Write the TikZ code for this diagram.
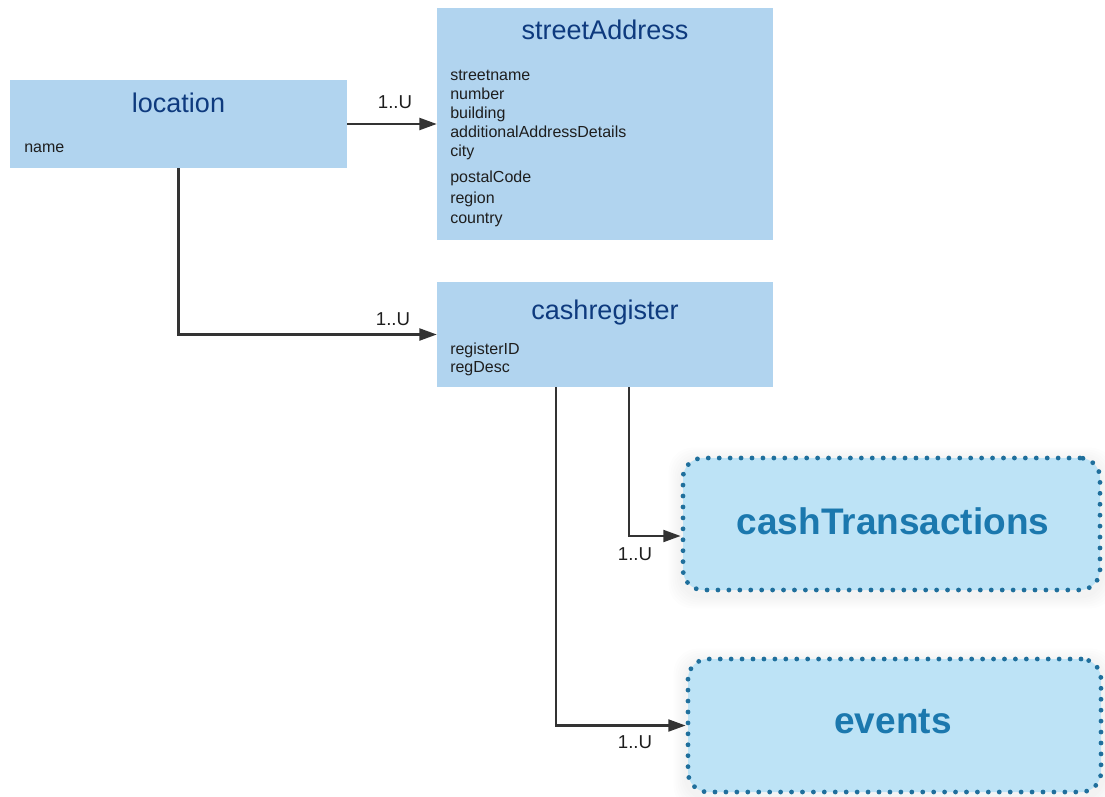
\documentclass[tikz,border=0pt]{standalone}
\usepackage{fontspec}
\setmainfont{Liberation Sans}
\usetikzlibrary{arrows.meta,calc,backgrounds}
\definecolor{boxfill}{HTML}{B1D4EF}
\definecolor{titlecol}{HTML}{0E3A7E}
\definecolor{fieldcol}{HTML}{1E1E1E}
\definecolor{dotfill}{HTML}{BDE3F6}
\definecolor{dotline}{HTML}{1F6F9C}
\definecolor{boldcol}{HTML}{1B78AE}
\definecolor{linecol}{HTML}{333333}
\tikzset{
  entity/.style={fill=boxfill, draw=none, inner sep=0pt},
  etitle/.style={text=titlecol, font=\fontsize{20.25}{24}\selectfont, inner sep=0pt},
  efield/.style={text=fieldcol, font=\fontsize{12}{14}\selectfont, inner sep=0pt, anchor=mid west},
  ext/.style={fill=dotfill, draw=dotline, line width=3.6pt, line cap=round,
    dash pattern=on 0pt off 8.2pt, rounded corners=15pt, inner sep=0pt},
  extlabel/.style={text=boldcol, font=\fontsize{27.75}{32}\bfseries\selectfont, inner sep=0pt},
  conn/.style={draw=linecol, line width=1.6pt, -{Triangle[length=13pt,width=9pt]}},
  mult/.style={text=fieldcol, font=\fontsize{14}{16}\selectfont, inner sep=0pt}
}
\begin{document}
\begin{tikzpicture}[x=0.75pt,y=-0.75pt]
\useasboundingbox (0,0) rectangle (1105,796);
% entity boxes
\node[entity, minimum width=252.75pt, minimum height=66pt] (loc) at (178.5,124) {};
\node[etitle] (loct) at (178.5,103) {location};
\node[efield] (locf1) at (24,149) {name};

\node[entity, minimum width=252pt, minimum height=174pt] (sa) at (605,124) {};
\node[etitle] (sat) at (605,30) {streetAddress};
\node[efield] (saf1) at (450,77) {streetname};
\node[efield] (saf2) at (450,96) {number};
\node[efield] (saf3) at (450,115) {building};
\node[efield] (saf4) at (450,134) {additionalAddressDetails};
\node[efield] (saf5) at (450,153) {city};
\node[efield] (saf6) at (450,179) {postalCode};
\node[efield] (saf7) at (450,200) {region};
\node[efield] (saf8) at (450,220) {country};

\node[entity, minimum width=252pt, minimum height=78.75pt] (cr) at (605,334.5) {};
\node[etitle] (crt) at (605,313) {cashregister};
\node[efield] (crf1) at (450,351) {registerID};
\node[efield] (crf2) at (450,369) {regDesc};

% external boxes
\node[ext, minimum width=312.75pt, minimum height=99pt] (ct) at (891.5,524) {};
\node[extlabel] (ctt) at (893,521) {cashTransactions};
\node[ext, minimum width=309.75pt, minimum height=99.75pt] (ev) at (894.5,725.5) {};
\node[extlabel] (evt) at (893,722) {events};

\begin{scope}[on background layer]
\foreach \k in {2,4,...,12} {
  \fill[black, opacity=0.008, rounded corners=18pt]
    ($(ct.south west)+(-\k,\k+4)$) rectangle ($(ct.north east)+(\k,-\k+4)$);
  \fill[black, opacity=0.008, rounded corners=18pt]
    ($(ev.south west)+(-\k,\k+4)$) rectangle ($(ev.north east)+(\k,-\k+4)$);
}
\end{scope}

% connectors
\draw[conn] (loc.east) -- (sa.west);
\node[mult] (m1) at (395,102) {1..U};

\draw[conn] (loc.south) |- (cr.west);
\node[mult] (m2) at (393,319) {1..U};

\coordinate (ctin) at ($(ct.west)+(0,12)$);
\draw[conn] (cr.south -| 629,0) |- (ctin);
\node[mult] (m3) at (635,554) {1..U};

\draw[conn] (cr.south -| 556,0) |- (ev.west);
\node[mult] (m4) at (635,742) {1..U};
\end{tikzpicture}
\end{document}
